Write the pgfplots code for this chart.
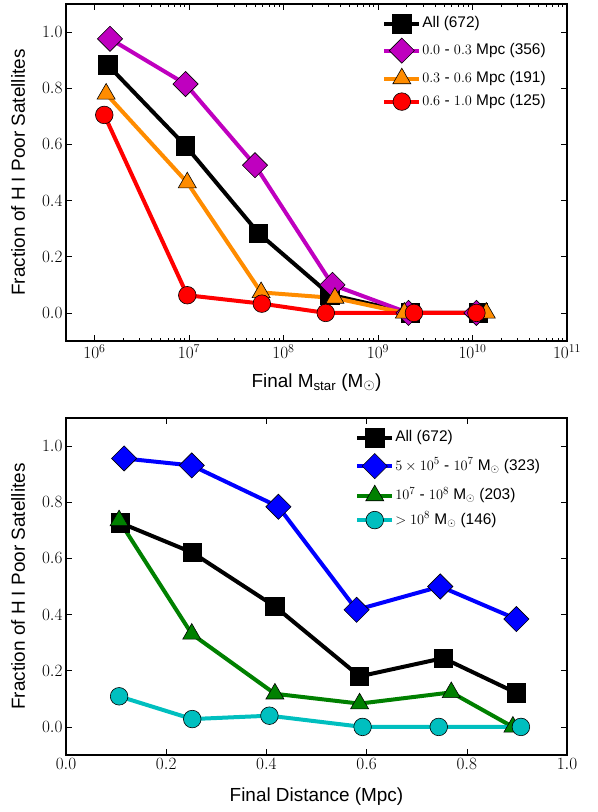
\documentclass[border=0pt]{standalone}
\usepackage{fontspec}
\setmainfont{Liberation Sans}
\usepackage{pgfplots}
\pgfplotsset{compat=1.18}
\definecolor{cpurple}{rgb}{0.75,0,0.75}
\definecolor{corange}{HTML}{FF8C00}
\definecolor{ccyan}{rgb}{0,0.75,0.75}
\definecolor{cgreen}{rgb}{0,0.5,0}
\pgfplotsset{
  mystyle/.style={
    width=501bp, height=337bp, scale only axis,
    ymin=-0.1, ymax=1.1, ytick={0,0.2,0.4,0.6,0.8,1.0},
    axis line style={line width=1.2bp},
    tick style={black, line width=0.6bp},
    major tick length=6bp, minor tick length=3bp,
    yticklabel style={/pgf/number format/.cd, fixed, fixed zerofill, precision=1},
    tick label style={font=\fontsize{18}{18}\selectfont},
    label style={font=\fontsize{19}{19}\selectfont},
    ylabel={Fraction of H I Poor Satellites},
    ylabel style={at={(axis description cs:-0.0958,0.5)}, anchor=center},
    xlabel style={at={(axis description cs:0.5,0)}, anchor=center, yshift=-41.5bp},
    legend cell align=left,
    legend image code/.code={\draw[mark repeat=2,mark phase=2] plot coordinates {(0bp,0bp) (17.5bp,0bp) (35bp,0bp)};},
  },
  every axis plot/.append style={line width=4bp},
}
\begin{document}
\begin{tikzpicture}
\path[use as bounding box] (0,0) rectangle (598bp,-812bp);
\begin{axis}[mystyle, at={(66bp,-4bp)}, anchor=north west,
  xmode=log, xmin=5e5, xmax=1e11,
  xtick={1e6,1e7,1e8,1e9,1e10,1e11},
  xlabel={Final M$_{\mathrm{star}}$ (M$_\odot$)},
  legend style={draw=none, fill=none, at={(rel axis cs:0.625,0.975)}, anchor=north west,
    font=\fontsize{15.5}{18}\selectfont, row sep=5bp,
    nodes={inner sep=1bp, text height=12bp, text depth=4bp}},
]
\addplot[black, mark=square*, mark size=9.2bp, mark options={draw=black, fill=black, line width=0.6bp}]
  coordinates {(1.38e6,0.883) (9.2e6,0.595) (5.45e7,0.284) (3.1e8,0.065) (2.2e9,0) (1.15e10,0)};
\addlegendentry{All (672)}
\addplot[cpurple, mark=square*, mark size=8.9bp, mark options={rotate=45, draw=black, fill=cpurple, line width=0.6bp}]
  coordinates {(1.46e6,0.976) (9.2e6,0.815) (5.0e7,0.526) (3.3e8,0.10) (2.1e9,0) (1.1e10,0)};
\addlegendentry{$0.0$ - $0.3$ Mpc (356)}
\addplot[corange, mark=triangle*, mark size=10.4bp, mark options={draw=black, fill=corange, line width=0.6bp}]
  coordinates {(1.33e6,0.78) (9.6e6,0.464) (5.8e7,0.073) (3.5e8,0.053) (1.9e9,0) (1.4e10,0)};
\addlegendentry{$0.3$ - $0.6$ Mpc (191)}
\addplot[red, mark=*, mark size=8.8bp, mark options={draw=black, fill=red, line width=0.6bp}]
  coordinates {(1.27e6,0.705) (9.6e6,0.063) (5.9e7,0.033) (2.8e8,0) (2.4e9,0) (1.1e10,0)};
\addlegendentry{$0.6$ - $1.0$ Mpc (125)}
\end{axis}
\begin{axis}[mystyle, at={(66bp,-418bp)}, anchor=north west,
  xmin=0, xmax=1, xtick={0,0.2,0.4,0.6,0.8,1.0},
  xticklabel style={/pgf/number format/.cd, fixed, fixed zerofill, precision=1},
  xlabel={Final Distance (Mpc)},
  legend style={draw=none, fill=none, at={(rel axis cs:0.571,0.975)}, anchor=north west,
    font=\fontsize{15.5}{18}\selectfont, row sep=6.5bp,
    nodes={inner sep=1bp, text height=12bp, text depth=4bp}},
]
\addplot[black, mark=square*, mark size=9.2bp, mark options={draw=black, fill=black, line width=0.6bp}]
  coordinates {(0.108,0.727) (0.252,0.621) (0.417,0.429) (0.586,0.180) (0.753,0.245) (0.899,0.121)};
\addlegendentry{All (672)}
\addplot[blue, mark=square*, mark size=8.9bp, mark options={rotate=45, draw=black, fill=blue, line width=0.6bp}]
  coordinates {(0.116,0.956) (0.251,0.931) (0.424,0.784) (0.580,0.417) (0.747,0.500) (0.899,0.384)};
\addlegendentry{$5\times10^{5}$ - $10^{7}$ M$_\odot$ (323)}
\addplot[cgreen, mark=triangle*, mark size=10.4bp, mark options={draw=black, fill=cgreen, line width=0.6bp}]
  coordinates {(0.106,0.735) (0.251,0.331) (0.417,0.118) (0.586,0.083) (0.769,0.123) (0.892,0.0)};
\addlegendentry{$10^{7}$ - $10^{8}$ M$_\odot$ (203)}
\addplot[ccyan, mark=*, mark size=8.8bp, mark options={draw=black, fill=ccyan, line width=0.6bp}]
  coordinates {(0.106,0.109) (0.252,0.028) (0.406,0.040) (0.592,0) (0.744,0) (0.908,0)};
\addlegendentry{$>10^{8}$ M$_\odot$ (146)}
\end{axis}
\end{tikzpicture}
\end{document}
